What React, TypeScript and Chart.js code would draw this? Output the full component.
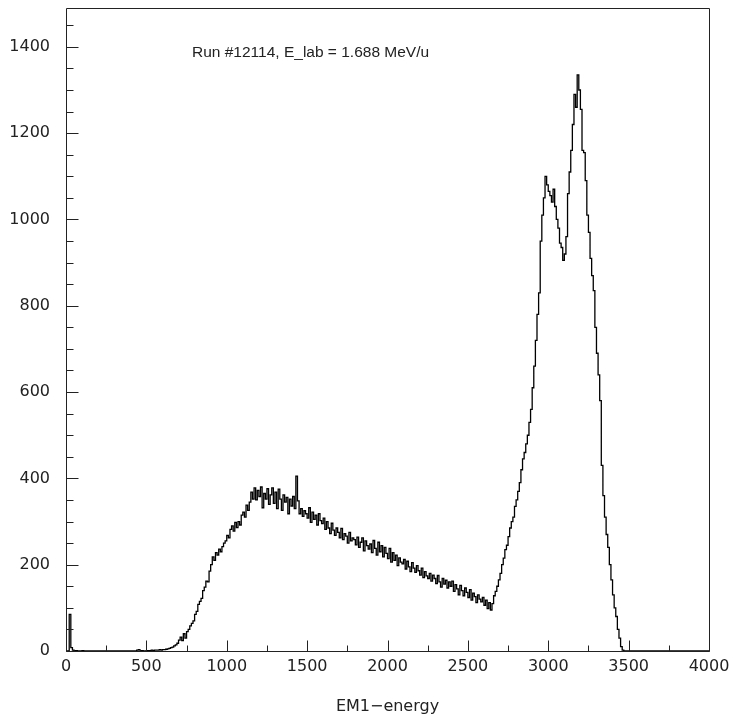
import React, { useEffect, useRef } from "react";
import { Chart, registerables } from "chart.js";

Chart.register(...registerables);

// ---- data ----
const binStart = 0;
const binWidth = 10;
// counts per 10-unit bin, from 0 to 3500
const counts = [
  0, 0, 0, 85, 8, 2, 0, 1, 0, 0,
  0, 1, 0, 0, 0, 0, 0, 0, 0, 0,
  0, 0, 0, 0, 0, 0, 0, 0, 0, 0,
  0, 0, 0, 0, 0, 0, 0, 0, 0, 0,
  0, 0, 0, 0, 0, 2, 3, 0, 1, 0,
  0, 1, 1, 1, 2, 1, 2, 2, 2, 3,
  2, 3, 3, 4, 5, 6, 8, 9, 12, 14,
  18, 25, 32, 24, 40, 30, 45, 50, 58, 64,
  70, 85, 92, 108, 115, 122, 140, 148, 162, 160,
  185, 200, 218, 210, 228, 222, 236, 230, 242, 250,
  255, 268, 262, 282, 290, 278, 298, 286, 300, 292,
  315, 322, 310, 338, 326, 345, 368, 352, 378, 350,
  372, 358, 380, 332, 365, 352, 376, 340, 362, 378,
  342, 368, 330, 375, 352, 326, 362, 345, 356, 318,
  352, 336, 358, 330, 405, 348, 318, 330, 312, 325,
  318, 308, 332, 298, 322, 305, 315, 292, 318, 302,
  295, 308, 282, 300, 285, 272, 296, 280, 268, 285,
  275, 262, 284, 258, 272, 266, 250, 275, 255, 262,
  258, 246, 264, 240, 252, 262, 232, 255, 244, 236,
  248, 228, 256, 238, 222, 252, 230, 244, 218, 240,
  226, 214, 238, 206, 228, 210, 222, 198, 216, 206,
  202, 212, 190, 208, 195, 184, 205, 192, 182, 198,
  186, 176, 192, 170, 184, 174, 168, 180, 162, 176,
  168, 156, 175, 160, 148, 168, 155, 164, 146, 160,
  150, 162, 138, 154, 144, 130, 152, 140, 128, 146,
  136, 124, 142, 118, 134, 126, 112, 130, 120, 114,
  124, 106, 118, 98, 112, 95, 110, 128, 138, 150,
  165, 180, 200, 215, 235, 245, 265, 285, 300, 310,
  335, 350, 370, 390, 420, 445, 460, 480, 500, 530,
  560, 610, 660, 720, 780, 830, 950, 1010, 1050, 1100,
  1080, 1065, 1055, 1040, 1070, 1030, 1000, 980, 945, 935,
  905, 920, 960, 1060, 1110, 1160, 1220, 1290, 1260, 1335,
  1300, 1255, 1160, 1155, 1090, 1010, 970, 910, 870, 835,
  750, 690, 640, 580, 430, 360, 310, 270, 240, 200,
  165, 130, 100, 80, 50, 30, 10, 2, 0, 0,
];

const xMin = 0;
const xMax = 4000;
const yMin = 0;
const yMax = 1490;

const xMajorTicks = [0, 500, 1000, 1500, 2000, 2500, 3000, 3500, 4000];
const xMinorTicks = [250, 750, 1250, 1750, 2250, 2750, 3250, 3750];
const yMajorTicks = [0, 200, 400, 600, 800, 1000, 1200, 1400];
const yMinorTicks = [
  50, 100, 150, 250, 300, 350, 450, 500, 550, 650, 700, 750, 850, 900, 950,
  1050, 1100, 1150, 1250, 1300, 1350, 1450,
];

const titleText = "Run #12114, E_lab = 1.688 MeV/u";
const xAxisTitle = "EM1\u2212energy";

const W = 733;
const H = 719;

const framePlugin = {
  id: "frameTicksText",
  afterDraw(chart: any) {
    const { ctx, chartArea: a, scales } = chart;
    const xs = scales.x;
    const ys = scales.y;
    const L = Math.round(a.left) + 0.5;
    const R = Math.round(a.right) + 0.5;
    const T = Math.round(a.top) + 0.5;
    const B = Math.round(a.bottom) + 0.5;
    ctx.save();
    ctx.strokeStyle = "#222";
    ctx.lineWidth = 1;
    ctx.beginPath();
    ctx.rect(L, T, R - L, B - T);
    ctx.stroke();

    ctx.beginPath();
    for (const v of xMajorTicks) {
      const px = Math.round(xs.getPixelForValue(v)) + 0.5;
      ctx.moveTo(px, B);
      ctx.lineTo(px, B - 11);
    }
    for (const v of xMinorTicks) {
      const px = Math.round(xs.getPixelForValue(v)) + 0.5;
      ctx.moveTo(px, B);
      ctx.lineTo(px, B - 6);
    }
    for (const v of yMajorTicks) {
      const py = Math.round(ys.getPixelForValue(v)) + 0.5;
      ctx.moveTo(L, py);
      ctx.lineTo(L + 12, py);
    }
    for (const v of yMinorTicks) {
      const py = Math.round(ys.getPixelForValue(v)) + 0.5;
      ctx.moveTo(L, py);
      ctx.lineTo(L + 7, py);
    }
    ctx.stroke();

    ctx.fillStyle = "#222";
    ctx.font = '15.5px "Liberation Sans", Arial, sans-serif';
    ctx.textAlign = "left";
    ctx.textBaseline = "middle";
    ctx.fillText(titleText, a.left + 126, a.top + 45);

    ctx.font = '16px "DejaVu Sans", sans-serif';
    ctx.textAlign = "center";
    ctx.textBaseline = "middle";
    ctx.fillText(xAxisTitle, (a.left + a.right) / 2, a.bottom + 56);
    ctx.restore();
  },
};

const zeroPad = (s: any) => {
  s.paddingTop = 0;
  s.paddingBottom = 0;
  s.paddingLeft = 0;
  s.paddingRight = 0;
};

export default function App() {
  const ref = useRef<HTMLCanvasElement | null>(null);

  useEffect(() => {
    if (!ref.current) return;
    const points: { x: number; y: number }[] = counts.map((c, i) => ({
      x: binStart + i * binWidth,
      y: c,
    }));
    points.push({ x: binStart + counts.length * binWidth, y: 0 });
    points.push({ x: xMax, y: 0 });

    const chart = new Chart(ref.current, {
      type: "line",
      data: {
        datasets: [
          {
            data: points,
            borderColor: "#000",
            borderWidth: 1.3,
            pointRadius: 0,
            stepped: "after",
            fill: false,
            tension: 0,
          },
        ],
      },
      options: {
        animation: false,
        responsive: false,
        devicePixelRatio: 1,
        events: [],
        layout: { padding: { top: 8, right: 24, left: 0, bottom: 0 } },
        plugins: {
          legend: { display: false },
          tooltip: { enabled: false },
          title: { display: false },
        },
        scales: {
          x: {
            type: "linear",
            min: xMin,
            max: xMax,
            grid: { display: false, drawTicks: false },
            border: { display: false },
            afterFit: (s: any) => {
              s.height = 68;
              zeroPad(s);
            },
            ticks: {
              stepSize: 500,
              maxRotation: 0,
              autoSkip: false,
              includeBounds: false,
              padding: 6,
              color: "#222",
              font: { family: '"DejaVu Sans", sans-serif', size: 16 },
              callback: (v: any) => String(v),
            },
          },
          y: {
            type: "linear",
            min: yMin,
            max: yMax,
            grid: { display: false, drawTicks: false },
            border: { display: false },
            afterFit: (s: any) => {
              s.width = 66;
              zeroPad(s);
            },
            ticks: {
              stepSize: 200,
              includeBounds: false,
              padding: 16,
              color: "#222",
              font: { family: '"DejaVu Sans", sans-serif', size: 16 },
              callback: (v: any) => String(v),
            },
          },
        },
      },
      plugins: [framePlugin],
    });
    return () => chart.destroy();
  }, []);

  return (
    <div style={{ position: "fixed", left: 0, top: 0, width: W, height: H, background: "#fff" }}>
      <canvas ref={ref} width={W} height={H} style={{ display: "block" }} />
    </div>
  );
}
